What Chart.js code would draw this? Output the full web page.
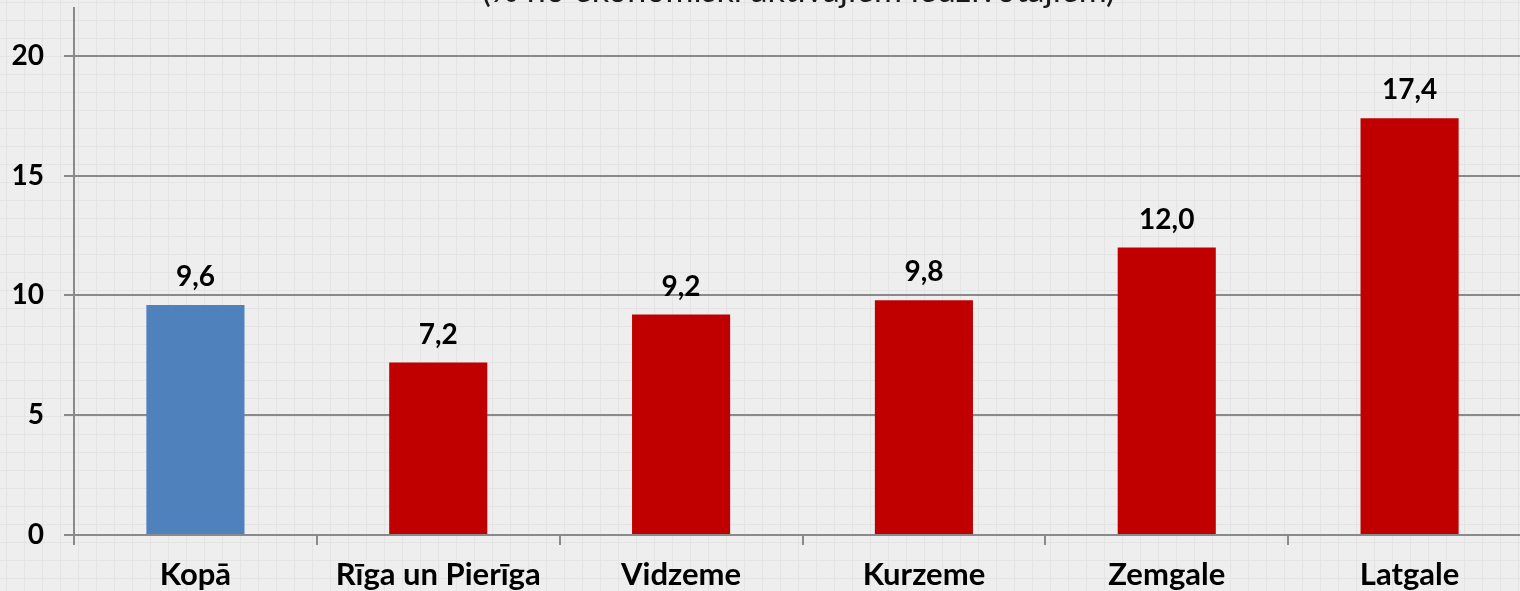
<!DOCTYPE html>
<html>
<head>
<meta charset="utf-8">
<script src="https://cdn.jsdelivr.net/npm/chart.js@4"></script>
<style>
  html, body { margin: 0; padding: 0; overflow: hidden; }
  body {
    width: 1520px; height: 591px;
    background-color: #eeeeee;
    background-image:
      linear-gradient(90deg, #e4e4e4 1px, transparent 1px),
      linear-gradient(#e4e4e4 1px, transparent 1px);
    background-size: 18px 18px;
    background-position: 6px 2px;
  }
  #wrap { width: 1531px; height: 591px; }
</style>
</head>
<body>
<div id="wrap"><canvas id="regions-chart" width="1531" height="591"></canvas></div>
<script>
// bezdarba līmenis pa reģioniem
const regions = ['Kopā', 'Rīga un Pierīga', 'Vidzeme', 'Kurzeme', 'Zemgale', 'Latgale']
const rates = [9.6, 7.2, 9.2, 9.8, 12.0, 17.4]
const barColors = ['#4f81bd', '#c00000', '#c00000', '#c00000', '#c00000', '#c00000']
const yTicks = [0, 5, 10, 15, 20]
const subtitle = '(% no ekonomiski aktīvajiem iedzīvotājiem)'

const axisColor = '#8a8a8a'
const fontFamily = 'Lato, "Open Sans", sans-serif'

const canvas = document.getElementById('regions-chart')

function formatValue(v){
    return v.toFixed(1).replace('.', ',')
}

const titlePlugin = {
    id: 'topTitle',
    afterDraw(chart){
        const ctx = chart.ctx
        const area = chart.chartArea
        ctx.save()
        ctx.font = '34px ' + fontFamily
        ctx.fillStyle = '#1a1a1a'
        ctx.textAlign = 'center'
        ctx.textBaseline = 'alphabetic'
        ctx.fillText(subtitle, (area.left + area.right) / 2 - 4, 2)
        ctx.restore()
    }
}

const valueLabels = {
    id: 'valueLabels',
    afterDatasetsDraw(chart){
        const ctx = chart.ctx
        const meta = chart.getDatasetMeta(0)
        ctx.save()
        ctx.font = 'bold 28px ' + fontFamily
        ctx.fillStyle = '#000000'
        ctx.textAlign = 'center'
        ctx.textBaseline = 'alphabetic'
        meta.data.forEach((bar, i) => {
            ctx.fillText(formatValue(rates[i]), bar.x, bar.y - 19)
        })
        ctx.restore()
    }
}

let regionsChart = new Chart(canvas, {
    type: 'bar',
    data: {
        labels: regions,
        datasets: [
            {
                label: 'Bezdarba līmenis',
                data: rates,
                backgroundColor: barColors,
                categoryPercentage: 1,
                barPercentage: 0.404
            }
        ]
    },
    options: {
        responsive: false,
        animation: false,
        layout: { padding: { top: 8, left: 0, right: 0, bottom: 0 } },
        plugins: {
            legend: { display: false },
            tooltip: { enabled: false },
            title: { display: false }
        },
        scales: {
            x: {
                afterFit: scale => {
                    scale.height = 56
                    scale.paddingLeft = 0
                    scale.paddingRight = 0
                },
                grid: {
                    drawOnChartArea: false,
                    drawTicks: true,
                    tickLength: 10,
                    color: axisColor,
                    lineWidth: 2
                },
                border: { display: true, color: axisColor, width: 2 },
                ticks: {
                    color: '#000000',
                    padding: 11,
                    font: { family: fontFamily, size: 31, weight: 'bold' },
                    maxRotation: 0,
                    autoSkip: false
                }
            },
            y: {
                min: 0,
                max: 22,
                afterFit: scale => {
                    scale.width = 74
                    scale.paddingTop = 0
                    scale.paddingBottom = 0
                },
                afterBuildTicks: scale => {
                    scale.ticks = yTicks.map(v => ({ value: v }))
                },
                grid: {
                    color: axisColor,
                    lineWidth: 2,
                    tickLength: 10
                },
                border: { display: true, color: axisColor, width: 2 },
                ticks: {
                    color: '#000000',
                    padding: 20,
                    font: { family: fontFamily, size: 28, weight: 'bold' }
                }
            }
        }
    },
    plugins: [titlePlugin, valueLabels]
})
</script>
</body>
</html>
